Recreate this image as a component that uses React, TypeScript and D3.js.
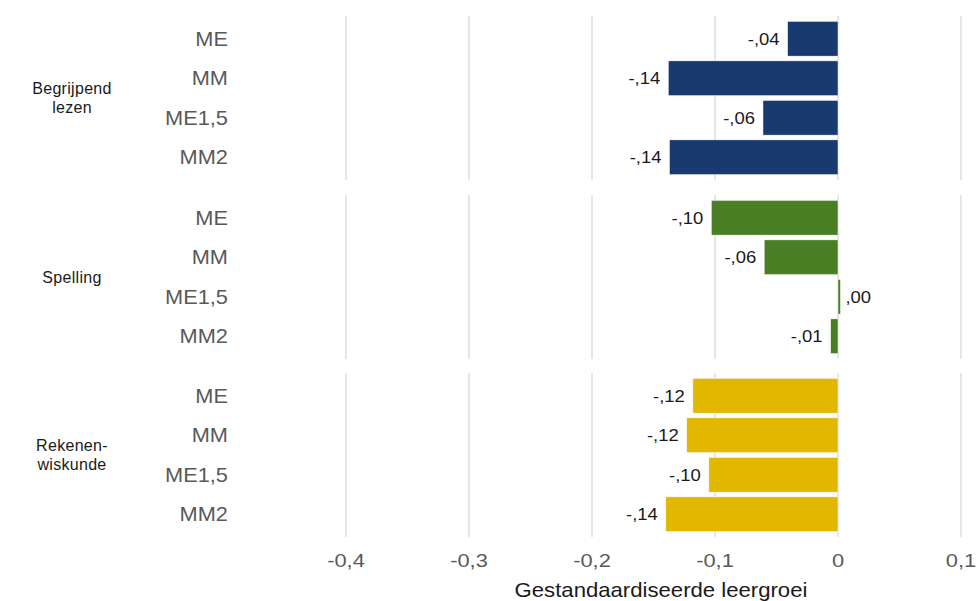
import { useEffect } from 'react';
import * as d3 from 'd3';

// facets and categories
const subjects = ['Begrijpend lezen', 'Spelling', 'Rekenen-wiskunde'];
const subjectLines = [['Begrijpend', 'lezen'], ['Spelling'], ['Rekenen-', 'wiskunde']];
const measures = ['ME', 'MM', 'ME1,5', 'MM2'];

// standardised growth per subject (order of measures)
const lezenValues = [-0.041, -0.138, -0.061, -0.137];
const spellingValues = [-0.103, -0.06, 0.002, -0.006];
const rekenenValues = [-0.118, -0.123, -0.105, -0.14];

const tickValues = [-0.4, -0.3, -0.2, -0.1, 0, 0.1];
const colors = ['#193a6f', '#4a7f25', '#e1b700'];
const xTitle = 'Gestandaardiseerde leergroei';

const seriesValues = [lezenValues, spellingValues, rekenenValues];

const W = 977;
const H = 601;
const panelTops = [16, 195, 373];
const panelH = 164;
const font = '"Liberation Sans", Arial, sans-serif';

const fmtValue = (v: number) => d3.format('.2f')(v).replace('−', '-').replace('0.', ',');
const fmtTick = (v: number) => String(+v.toFixed(1)).replace('.', ',');

// the source text is a bit wider than Arial, so stretch it horizontally
const at = (x: number, y: number, sx: number) => `translate(${x},${y}) scale(${sx},1)`;

export default function App() {
  useEffect(() => {
    document.body.style.margin = '0';
  }, []);

  const x = d3.scaleLinear().domain([-0.4, 0.1]).range([346, 961]);

  return (
    <svg width={W} height={H} style={{ display: 'block', fontFamily: font }}>
      <rect width={W} height={H} fill="#fff" />
      {subjects.map((s, i) => {
        const top = panelTops[i];
        const y = d3
          .scaleBand<string>()
          .domain(measures)
          .range([top + 3, top + panelH - 3])
          .paddingInner(0.12)
          .paddingOuter(0.06);
        const lines = subjectLines[i];
        const mid = top + panelH / 2;
        return (
          <g key={s}>
            {tickValues.map((t) => (
              <line key={t} x1={x(t)} x2={x(t)} y1={top} y2={top + panelH} stroke="#e6e6e6" strokeWidth={2} />
            ))}
            {lines.map((l, j) => (
              <text
                key={l}
                x={72}
                y={mid + (j - (lines.length - 1) / 2) * 19}
                dy="0.35em"
                textAnchor="middle"
                fontSize={16}
                letterSpacing={0.3}
                fill="#1a1a1a"
              >
                {l}
              </text>
            ))}
            {measures.map((m, j) => {
              const v = seriesValues[i][j];
              const by = y(m)!;
              const bw = y.bandwidth();
              const x0 = x(Math.min(0, v));
              const x1 = x(Math.max(0, v));
              return (
                <g key={m}>
                  <text
                    transform={at(228, by + bw / 2, 1.09)}
                    dy="0.35em"
                    textAnchor="end"
                    fontSize={20}
                    fill="#595959"
                  >
                    {m}
                  </text>
                  <rect
                    x={x0}
                    y={by}
                    width={Math.max(x1 - x0, 2)}
                    height={bw}
                    fill={colors[i]}
                    stroke="#fff"
                    strokeWidth={0.5}
                  />
                  <text
                    transform={at(v < 0 ? x0 - 8 : x1 + 5, by + bw / 2, 1.12)}
                    dy="0.35em"
                    textAnchor={v < 0 ? 'end' : 'start'}
                    fontSize={16.5}
                    fill="#1a1a1a"
                  >
                    {fmtValue(v)}
                  </text>
                </g>
              );
            })}
          </g>
        );
      })}
      {tickValues.map((t) => (
        <text key={t} transform={at(x(t), 567, 1.25)} textAnchor="middle" fontSize={17.5} fill="#595959">
          {fmtTick(t)}
        </text>
      ))}
      <text transform={at(661, 597, 1.08)} textAnchor="middle" fontSize={20.5} fill="#1a1a1a">
        {xTitle}
      </text>
    </svg>
  );
}
